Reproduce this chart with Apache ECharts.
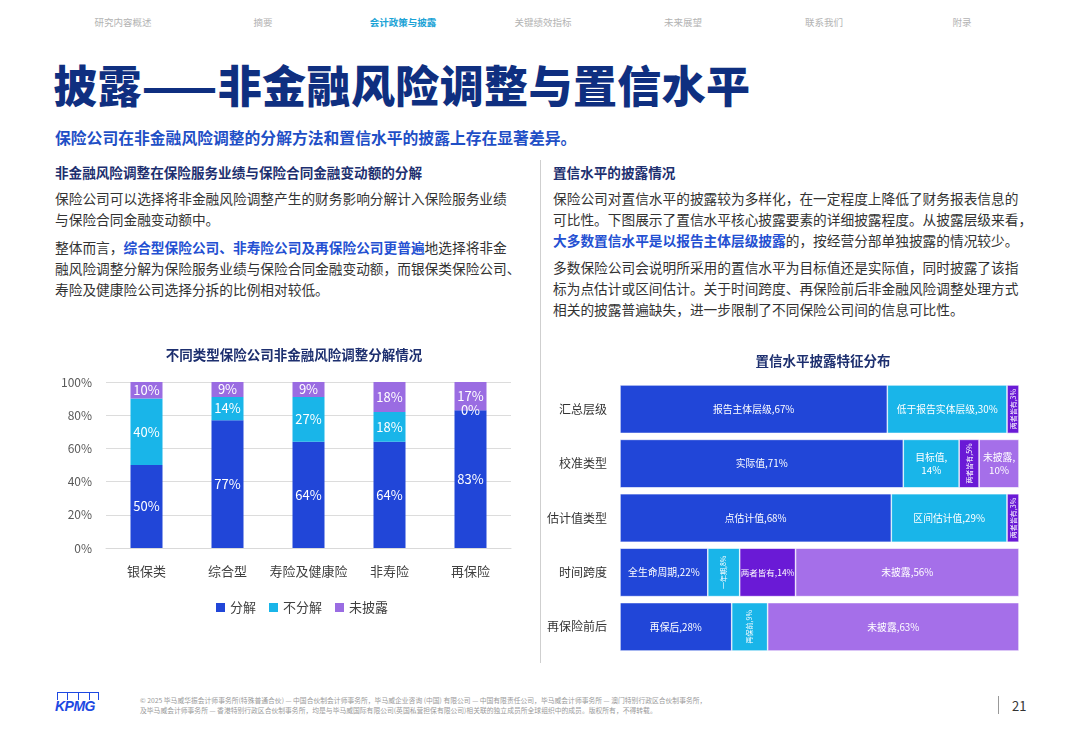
<!DOCTYPE html>
<html>
<head>
<meta charset="utf-8">
<script src="https://cdn.jsdelivr.net/npm/echarts@6/dist/echarts.min.js"></script>
<style>
  html, body { margin: 0; padding: 0; background: #fff; }
  body { width: 1080px; height: 748px; position: relative; overflow: hidden;
         font-family: "Noto Sans CJK SC", "Noto Sans", sans-serif; color: #333; }
  .abs { position: absolute; white-space: nowrap; }
  .nav { top: 15px; font-size: 9.5px; color: #b3b3b3; transform: translateX(-50%); }
  .nav.on { color: #1ba3d6; font-weight: bold; }
  .title { left: 53px; top: 52px; font-size: 44px; font-weight: 900; color: #0f2f80; letter-spacing: 0.4px; }
  .sub { left: 55px; top: 126px; font-size: 15.8px; font-weight: bold; color: #1f4fc6; }
  .head { top: 162px; font-size: 13.6px; font-weight: bold; color: #1d2f6f; }
  .para { font-size: 13.7px; line-height: 20.8px; color: #333; }
  .para b { color: #2450d2; }
  .vline { position: absolute; background: #cfcfcf; width: 1px; }
  .foot { left: 140px; top: 696px; font-size: 6.8px; line-height: 9.5px; color: #9a9a9a; }
  #chart { position: absolute; left: 0; top: 0; width: 1080px; height: 748px; }
</style>
</head>
<body>
<div class="abs nav" style="left:123px">研究内容概述</div>
<div class="abs nav" style="left:263px">摘要</div>
<div class="abs nav on" style="left:403px">会计政策与披露</div>
<div class="abs nav" style="left:543px">关键绩效指标</div>
<div class="abs nav" style="left:683px">未来展望</div>
<div class="abs nav" style="left:824px">联系我们</div>
<div class="abs nav" style="left:962px">附录</div>

<div class="abs title">披露——非金融风险调整与置信水平</div>
<div class="abs sub">保险公司在非金融风险调整的分解方法和置信水平的披露上存在显著差异。</div>

<div class="abs head" style="left:55px">非金融风险调整在保险服务业绩与保险合同金融变动额的分解</div>
<div class="abs para" style="left:55px;top:188px">保险公司可以选择将非金融风险调整产生的财务影响分解计入保险服务业绩<br>与保险合同金融变动额中。</div>
<div class="abs para" style="left:55px;top:237px">整体而言，<b>综合型保险公司、非寿险公司及再保险公司更普遍</b>地选择将非金<br>融风险调整分解为保险服务业绩与保险合同金融变动额，而银保类保险公司、<br>寿险及健康险公司选择分拆的比例相对较低。</div>

<div class="vline" style="left:540px;top:160px;height:503px"></div>

<div class="abs head" style="left:553px">置信水平的披露情况</div>
<div class="abs para" style="left:553px;top:188px">保险公司对置信水平的披露较为多样化，在一定程度上降低了财务报表信息的<br>可比性。下图展示了置信水平核心披露要素的详细披露程度。从披露层级来看，<br><b>大多数置信水平是以报告主体层级披露</b>的，按经营分部单独披露的情况较少。</div>
<div class="abs para" style="left:553px;top:257px">多数保险公司会说明所采用的置信水平为目标值还是实际值，同时披露了该指<br>标为点估计或区间估计。关于时间跨度、再保险前后非金融风险调整处理方式<br>相关的披露普遍缺失，进一步限制了不同保险公司间的信息可比性。</div>

<div class="abs" style="left:55px;top:692px;width:46px;height:24px">
  <div style="position:absolute;left:2px;top:0;width:42px;height:8px;border:1px solid #1e49e2;border-bottom:none;box-sizing:border-box"></div>
  <div style="position:absolute;left:12px;top:0;width:1px;height:8px;background:#1e49e2"></div>
  <div style="position:absolute;left:23px;top:0;width:1px;height:8px;background:#1e49e2"></div>
  <div style="position:absolute;left:34px;top:0;width:1px;height:8px;background:#1e49e2"></div>
  <div style="position:absolute;left:0;top:6px;font:italic bold 14px 'Liberation Sans',Arial,sans-serif;color:#1e49e2;letter-spacing:-0.5px">KPMG</div>
</div>
<div class="abs foot">© 2025 毕马威华振会计师事务所(特殊普通合伙) — 中国合伙制会计师事务所，毕马威企业咨询 (中国) 有限公司 — 中国有限责任公司，毕马威会计师事务所 — 澳门特别行政区合伙制事务所，<br>及毕马威会计师事务所 — 香港特别行政区合伙制事务所，均是与毕马威国际有限公司(英国私营担保有限公司)相关联的独立成员所全球组织中的成员。版权所有，不得转载。</div>
<div class="vline" style="left:998px;top:696px;height:18px;background:#999"></div>
<div class="abs" style="left:1012px;top:696px;font-size:13px;color:#333">21</div>

<div id="chart"></div>

<script>
// 左图：不同类型保险公司非金融风险调整分解情况
var leftCats = ['银保类', '综合型', '寿险及健康险', '非寿险', '再保险'];
var splitVals = [50, 77, 64, 64, 83];
var noSplitVals = [40, 14, 27, 18, 0];
var undisclosedVals = [10, 9, 9, 18, 17];
var leftTicks = [0, 20, 40, 60, 80, 100];

// 右图：置信水平披露特征分布
var rightCats = ['汇总层级', '校准类型', '估计值类型', '时间跨度', '再保险前后'];
var r1Names = ['报告主体层级', '实际值', '点估计值', '全生命周期', '再保后'];
var r1Vals = [67, 71, 68, 22, 28];
var r2Names = ['低于报告实体层级', '目标值', '区间估计值', '一年期', '再保前'];
var r2Vals = [30, 14, 29, 8, 9];
var r3Names = ['两者皆有', '两者皆有', '两者皆有', '两者皆有', ''];
var r3Vals = [3, 5, 3, 14, null];
var r4Names = ['', '未披露', '', '未披露', '未披露'];
var r4Vals = [null, 10, null, 56, 63];

var FONT = '"Noto Sans CJK SC", sans-serif';
var C_BLUE = '#2146d8', C_CYAN = '#19b5e9', C_PURP = '#9a6ce2', C_DPURP = '#6a1ad6', C_LPURP = '#a56fe9';

function rightData(names, vals) {
  return vals.map(function (v, i) {
    if (v == null) return '-';
    var txt = names[i] + ',' + v + '%';
    var lab = { show: true };
    if (v < 10) {
      lab.rotate = 90; lab.fontSize = 7;
    } else if (v <= 14 && names[i].length <= 3) {
      txt = names[i] + ',\n' + v + '%';
    } else if (v <= 14) {
      lab.fontSize = 8.5;
    }
    lab.formatter = txt;
    return { value: v, label: lab };
  });
}

function leftSeries(name, vals, color) {
  return {
    name: name, type: 'bar', stack: 'left', xAxisIndex: 0, yAxisIndex: 0,
    barWidth: 32, data: vals, itemStyle: { color: color },
    label: { show: true, position: 'inside', color: '#fff', fontSize: 13, fontFamily: FONT, formatter: '{c}%' }
  };
}

function rightSeries(name, names, vals, color) {
  return {
    name: name, type: 'bar', stack: 'right', xAxisIndex: 1, yAxisIndex: 1,
    barCategoryGap: '11%', data: rightData(names, vals),
    itemStyle: { color: color, borderColor: '#fff', borderWidth: 0.6 },
    label: { position: 'inside', color: '#fff', fontSize: 9.8, fontFamily: FONT, lineHeight: 13 }
  };
}

var chart = echarts.init(document.getElementById('chart'), null, { renderer: 'canvas' });
chart.setOption({
  animation: false,
  textStyle: { fontFamily: FONT },
  title: [
    { text: '不同类型保险公司非金融风险调整分解情况', left: 289, top: 343, textAlign: 'center',
      textStyle: { fontSize: 13.5, fontWeight: 'bold', color: '#1d2f6f', fontFamily: FONT } },
    { text: '置信水平披露特征分布', left: 818, top: 349, textAlign: 'center',
      textStyle: { fontSize: 13.5, fontWeight: 'bold', color: '#1d2f6f', fontFamily: FONT } }
  ],
  legend: {
    data: ['分解', '不分解', '未披露'], left: 211, top: 596,
    itemWidth: 9, itemHeight: 9, itemGap: 13, icon: 'rect',
    textStyle: { fontSize: 13, color: '#404040', fontFamily: FONT }
  },
  grid: [
    { left: 106, top: 382, width: 405, height: 166 },
    { left: 620, top: 382, width: 399, height: 272 }
  ],
  xAxis: [
    { type: 'category', gridIndex: 0, data: leftCats,
      axisLine: { lineStyle: { color: '#d9d9d9' } }, axisTick: { show: false },
      axisLabel: { color: '#404040', fontSize: 13, margin: 17, interval: 0, fontFamily: FONT } },
    { type: 'value', gridIndex: 1, min: 0, max: 100, show: false }
  ],
  yAxis: [
    { type: 'value', gridIndex: 0, min: leftTicks[0], max: leftTicks[leftTicks.length - 1], interval: 20,
      axisLine: { show: false }, axisTick: { show: false },
      splitLine: { lineStyle: { color: '#dcdcdc' } },
      axisLabel: { color: '#595959', fontSize: 12, margin: 14, formatter: '{value}%', fontFamily: FONT } },
    { type: 'category', gridIndex: 1, data: rightCats, inverse: true,
      axisLine: { show: false }, axisTick: { show: false },
      axisLabel: { color: '#333', fontSize: 12, margin: 13, fontFamily: FONT } }
  ],
  series: [
    leftSeries('分解', splitVals, C_BLUE),
    leftSeries('不分解', noSplitVals, C_CYAN),
    leftSeries('未披露', undisclosedVals, C_PURP),
    rightSeries('r1', r1Names, r1Vals, C_BLUE),
    rightSeries('r2', r2Names, r2Vals, C_CYAN),
    rightSeries('r3', r3Names, r3Vals, C_DPURP),
    rightSeries('r4', r4Names, r4Vals, C_LPURP)
  ]
});
</script>
</body>
</html>
